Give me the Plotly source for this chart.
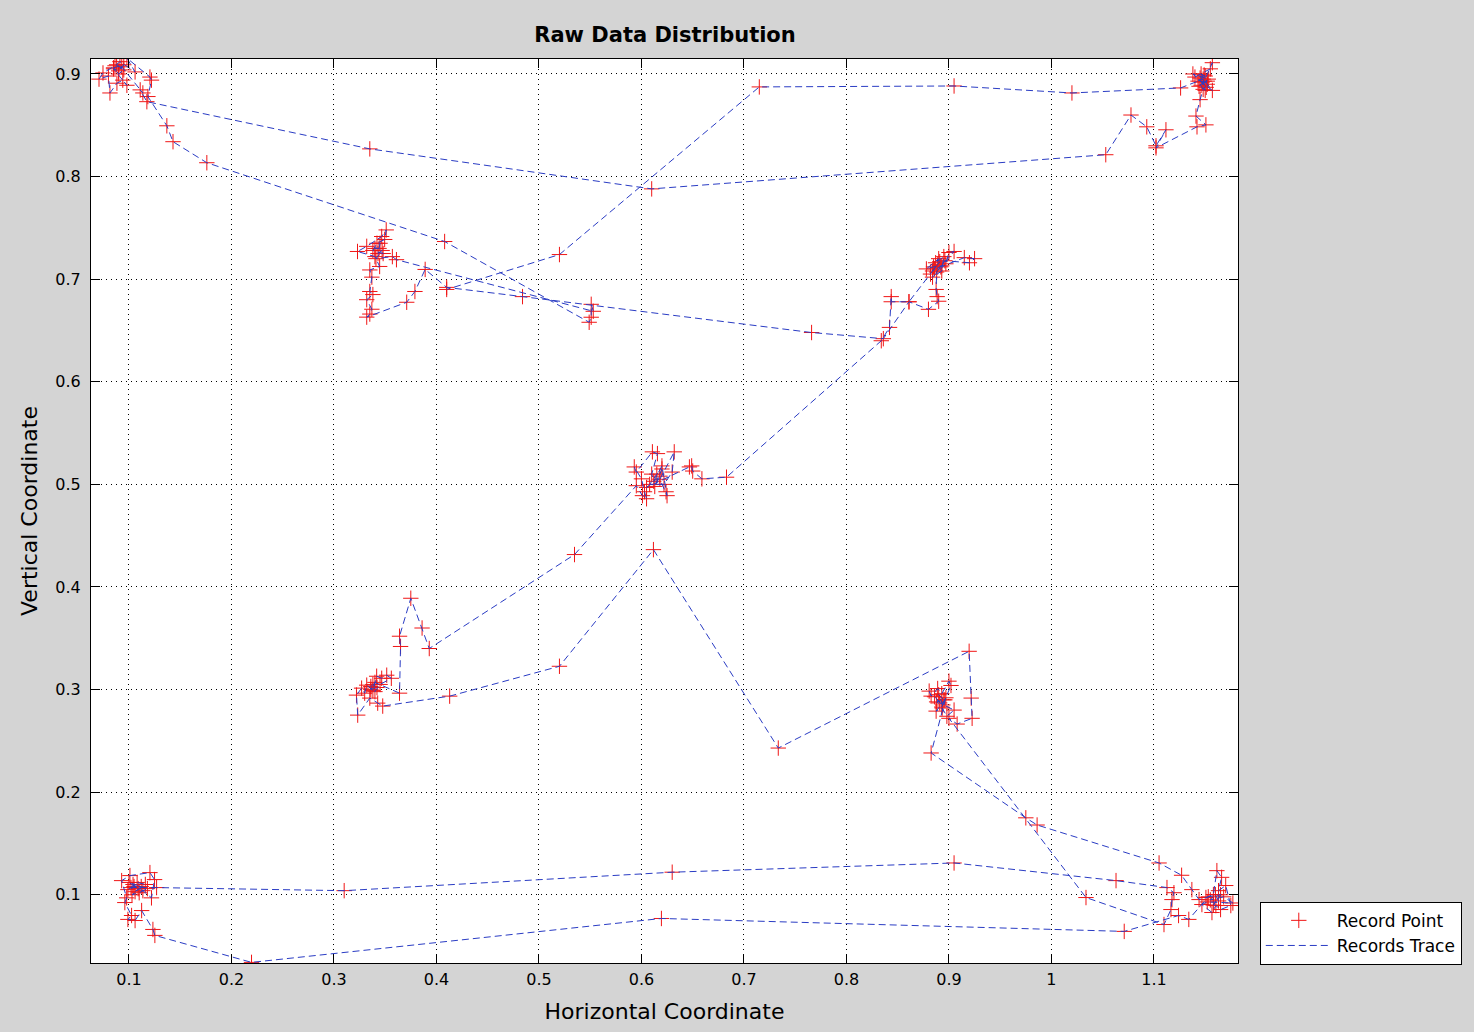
import plotly.graph_objects as go

# ---- data: recorded points in acquisition order, split into named stretches ----
c7_first_x = [0.8807, 0.8826, 0.889, 0.893, 0.900, 0.902, 0.896, 0.8875, 0.8934, 0.898, 0.905, 0.891, 0.886, 0.894,
              0.890, 0.895, 0.888, 0.893, 0.897]
c7_first_y = [0.2985, 0.2936, 0.301, 0.296, 0.3082, 0.304, 0.290, 0.279, 0.282, 0.274, 0.280, 0.287, 0.293, 0.285,
              0.295, 0.290, 0.288, 0.283, 0.292]

to_c9_x = [0.8826, 0.975, 0.986, 1.105, 1.127]
to_c9_y = [0.2382, 0.175, 0.168, 0.131, 0.119]

c9_x = [1.137, 1.144, 1.1507, 1.158, 1.1614, 1.166, 1.163, 1.170, 1.175, 1.165, 1.1604, 1.1566, 1.1468, 1.152, 1.177, 1.168,
        1.155, 1.160, 1.163, 1.158, 1.165, 1.153]
c9_y = [0.105, 0.0953, 0.0973, 0.1002, 0.1235, 0.117, 0.104, 0.109, 0.0895, 0.0856, 0.0895, 0.0827, 0.0905, 0.093, 0.092, 0.098,
        0.095, 0.100, 0.094, 0.090, 0.100, 0.098]

bottom_x = [1.134, 1.124, 1.071, 0.6195, 0.2196, 0.1253, 0.1234]
bottom_y = [0.076, 0.0798, 0.0643, 0.0769, 0.0341, 0.0604, 0.0662]

c8_x = [0.1124, 0.106, 0.099, 0.1026, 0.096, 0.0978, 0.0929, 0.101, 0.1205, 0.125, 0.122, 0.1136, 0.105, 0.099, 0.108, 0.116,
        0.103, 0.110, 0.118, 0.104, 0.109, 0.100, 0.112, 0.106, 0.102, 0.127]
c8_y = [0.0846, 0.0749, 0.076, 0.0798, 0.0924, 0.097, 0.1138, 0.1187, 0.1216, 0.1148, 0.097, 0.104, 0.108, 0.105, 0.112, 0.110,
        0.100, 0.102, 0.106, 0.110, 0.106, 0.112, 0.108, 0.103, 0.107, 0.107]

middle_x = [0.310, 0.630, 0.905, 1.063, 1.1127, 1.1195, 1.1176, 1.1166, 1.1098, 1.0337]
middle_y = [0.104, 0.122, 0.131, 0.1138, 0.107, 0.102, 0.0953, 0.0856, 0.071, 0.0973]

c7_second_x = [0.900, 0.908, 0.9226, 0.9217, 0.9197, 0.7335, 0.6117, 0.520, 0.4129]
c7_second_y = [0.272, 0.2664, 0.272, 0.2917, 0.3373, 0.243, 0.4364, 0.3227, 0.2936]

c6_x = [0.3476, 0.3427, 0.335, 0.3232, 0.322, 0.327, 0.330, 0.332, 0.338, 0.3417, 0.3466, 0.3515, 0.356, 0.345, 0.340, 0.336,
        0.338, 0.342, 0.336, 0.340, 0.364, 0.365, 0.364, 0.375, 0.386, 0.393]
c6_y = [0.2839, 0.2868, 0.2917, 0.2751, 0.2946, 0.3014, 0.2965, 0.3043, 0.299, 0.313, 0.311, 0.314, 0.311, 0.305, 0.298, 0.303,
        0.305, 0.302, 0.300, 0.307, 0.2965, 0.342, 0.352, 0.389, 0.360, 0.340]

c5_x = [0.5347, 0.595, 0.601, 0.605, 0.603, 0.600, 0.593, 0.595, 0.6107, 0.6156, 0.610, 0.612, 0.620, 0.624, 0.625, 0.618,
        0.632, 0.630, 0.622, 0.608, 0.615, 0.620, 0.613, 0.618, 0.605, 0.6468, 0.649, 0.650, 0.659, 0.683]
c5_y = [0.4316, 0.4987, 0.489, 0.486, 0.4928, 0.5054, 0.517, 0.512, 0.5317, 0.530, 0.510, 0.503, 0.518, 0.4928, 0.489, 0.505,
        0.5317, 0.512, 0.500, 0.500, 0.510, 0.515, 0.498, 0.508, 0.497, 0.517, 0.518, 0.513, 0.5054, 0.507]

c4_x = [0.834, 0.842, 0.8437, 0.8437, 0.861, 0.882, 0.889, 0.886, 0.891, 0.884, 0.893, 0.885, 0.878, 0.890, 0.887, 0.895,
        0.893, 0.884, 0.897, 0.900, 0.905, 0.892, 0.915, 0.925, 0.920, 0.896, 0.888, 0.8875, 0.8885, 0.890, 0.880, 0.861, 0.836]
c4_y = [0.640, 0.653, 0.683, 0.678, 0.678, 0.705, 0.714, 0.710, 0.717, 0.708, 0.713, 0.712, 0.710, 0.720, 0.716, 0.722,
        0.708, 0.702, 0.715, 0.726, 0.727, 0.712, 0.721, 0.720, 0.716, 0.718, 0.707, 0.690, 0.683, 0.6785, 0.6706, 0.678, 0.642]

to_c3_x = [0.766, 0.484, 0.410, 0.389, 0.379, 0.371, 0.332]
to_c3_y = [0.648, 0.683, 0.692, 0.7095, 0.688, 0.6775, 0.663]

c3_x = [0.335, 0.337, 0.332, 0.338, 0.335, 0.337, 0.335, 0.3446, 0.340, 0.323, 0.332, 0.3466, 0.351, 0.3495, 0.342, 0.338,
        0.348, 0.344, 0.340, 0.345, 0.343, 0.347, 0.341, 0.357, 0.361]
c3_y = [0.666, 0.6707, 0.680, 0.685, 0.688, 0.702, 0.709, 0.7124, 0.722, 0.727, 0.732, 0.7416, 0.748, 0.7387, 0.735, 0.728,
        0.725, 0.730, 0.730, 0.735, 0.725, 0.728, 0.720, 0.722, 0.719]

stack_x = [0.553, 0.551, 0.551, 0.549, 0.408, 0.176, 0.143, 0.137, 0.1185, 0.122, 0.1205]
stack_y = [0.6687, 0.6755, 0.6629, 0.658, 0.7367, 0.8135, 0.834, 0.8495, 0.878, 0.894, 0.897]

c1_x = [0.098, 0.106, 0.0912, 0.0864, 0.0747, 0.0708, 0.080, 0.0815, 0.0883, 0.094, 0.098, 0.085, 0.090, 0.095,
        0.085, 0.090, 0.095, 0.088, 0.093, 0.1136, 0.111, 0.1175]
c1_y = [0.9155, 0.902, 0.912, 0.908, 0.901, 0.895, 0.898, 0.8815, 0.891, 0.894, 0.889, 0.905, 0.903, 0.909,
        0.906, 0.900, 0.904, 0.909, 0.907, 0.8815, 0.8845, 0.873]

upper_x = [0.335, 0.610, 1.053, 1.0776, 1.093, 1.102, 1.1117, 1.102, 1.142, 1.1507, 1.141]
upper_y = [0.827, 0.788, 0.8213, 0.860, 0.8485, 0.830, 0.8456, 0.828, 0.8485, 0.8504, 0.859]

c2_x = [1.145, 1.148, 1.143, 1.150, 1.146, 1.152, 1.157, 1.140, 1.155, 1.157, 1.149, 1.144, 1.153, 1.138,
        1.147, 1.151, 1.145, 1.149, 1.152, 1.146, 1.150, 1.148]
c2_y = [0.875, 0.885, 0.893, 0.898, 0.900, 0.890, 0.884, 0.897, 0.905, 0.911, 0.893, 0.888, 0.895, 0.900,
        0.892, 0.887, 0.896, 0.899, 0.893, 0.889, 0.884, 0.895]

top_x = [1.126, 1.020, 0.905, 0.715, 0.520, 0.410]
top_y = [0.8864, 0.8815, 0.8883, 0.8874, 0.724, 0.690]

segments_x = [c7_first_x, to_c9_x, c9_x, bottom_x, c8_x, middle_x, c7_second_x, c6_x, c5_x, c4_x,
              to_c3_x, c3_x, stack_x, c1_x, upper_x, c2_x, top_x]
segments_y = [c7_first_y, to_c9_y, c9_y, bottom_y, c8_y, middle_y, c7_second_y, c6_y, c5_y, c4_y,
              to_c3_y, c3_y, stack_y, c1_y, upper_y, c2_y, top_y]

xs, ys = [], []
for sx, sy in zip(segments_x, segments_y):
    xs.extend(sx)
    ys.extend(sy)

x_ticks = [0.1, 0.2, 0.3, 0.4, 0.5, 0.6, 0.7, 0.8, 0.9, 1.0, 1.1]
x_tick_text = ["0.1", "0.2", "0.3", "0.4", "0.5", "0.6", "0.7", "0.8", "0.9", "1", "1.1"]
y_ticks = [0.1, 0.2, 0.3, 0.4, 0.5, 0.6, 0.7, 0.8, 0.9]
y_tick_text = ["0.1", "0.2", "0.3", "0.4", "0.5", "0.6", "0.7", "0.8", "0.9"]

FONT = "DejaVu Sans, Liberation Sans, sans-serif"
BG = "#d4d4d4"

fig = go.Figure()
fig.add_trace(go.Scatter(
    x=xs, y=ys, mode="markers", name="Record Point",
    marker=dict(symbol="cross-thin", size=11, line=dict(color="#f01515", width=1), color="#f01515"),
))
fig.add_trace(go.Scatter(
    x=xs, y=ys, mode="lines", name="Records Trace",
    line=dict(color="#2a3cc4", width=1, dash="7px,4px"),
))

axis_common = dict(
    showline=True, linecolor="black", linewidth=1, mirror="ticks",
    ticks="inside", ticklen=9, tickcolor="black", tickwidth=1,
    showgrid=True, gridcolor="black", gridwidth=1, griddash="1px,4px",
    zeroline=False, tickfont=dict(family=FONT, size=16, color="black"),
)

fig.update_layout(
    width=1474, height=1032, autosize=False,
    paper_bgcolor=BG, plot_bgcolor="white",
    margin=dict(l=91, r=235, t=59, b=67),
    title=dict(text="<b>Raw Data Distribution</b>", x=665 / 1474, xanchor="center",
               y=1 - 35 / 1032, yanchor="middle",
               font=dict(family=FONT, size=21, color="black")),
    xaxis=dict(range=[0.063, 1.182], tickvals=x_ticks, ticktext=x_tick_text,
               title=dict(text="Horizontal Coordinate", standoff=15,
                          font=dict(family=FONT, size=22, color="black")),
               ticklabelstandoff=2, **axis_common),
    yaxis=dict(range=[0.0335, 0.9146], tickvals=y_ticks, ticktext=y_tick_text,
               title=dict(text="Vertical Coordinate", standoff=11,
                          font=dict(family=FONT, size=22, color="black")),
               ticklabelstandoff=6, **axis_common),
    showlegend=True,
    legend=dict(x=1.019, xanchor="left", y=-0.002, yanchor="bottom",
                bgcolor="white", bordercolor="black", borderwidth=1,
                font=dict(family=FONT, size=17, color="black"),
                itemwidth=66, tracegroupgap=0),
)

fig.write_html(
    "out.html",
    config={"displayModeBar": False},
    post_script="document.body.style.margin='0';document.body.style.backgroundColor='%s';" % BG,
)
